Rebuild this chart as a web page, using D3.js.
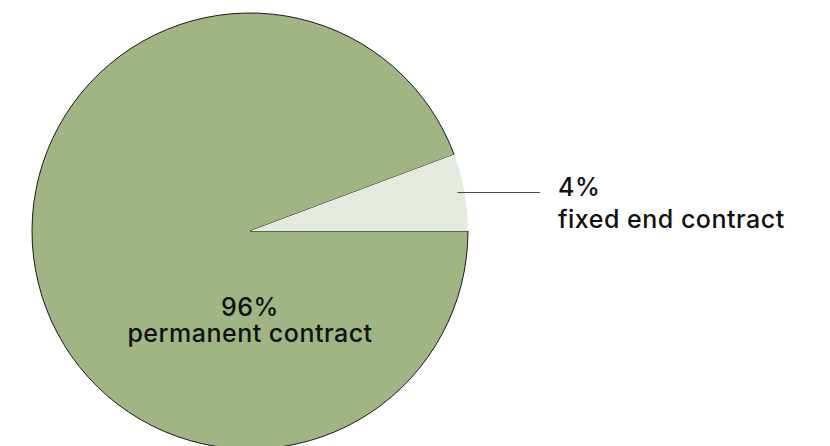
<!DOCTYPE html>
<html lang="en">
<head>
<meta charset="utf-8">
<title>Contract types</title>
<style>
    body { margin: 0; background: #fff; }
    text { font-family: Inter, "Noto Sans", sans-serif; font-size: 25px; font-weight: 500; letter-spacing: 0.5px; fill: #111; }
</style>
<script src="https://d3js.org/d3.v7.min.js"></script>
</head>
<body>
<svg width="830" height="446"></svg>
<script>
    // data
    const categories = ["permanent contract", "fixed end contract"];
    const shares = [94.3, 5.7];            // slice sizes as drawn
    const shareLabels = ["96%", "4%"];
    const colors = ["#a0b484", "#e5eadf"];

    const svg = d3.select("svg"),
        cx = 250, cy = 231, r = 218;

    const g = svg.append("g").attr("transform", `translate(${cx},${cy})`);

    const pie = d3.pie().sort(null).value(d => d.v)
        .startAngle(Math.PI / 2).endAngle(Math.PI / 2 + 2 * Math.PI);
    const arcs = pie(categories.map((c, i) => ({c, v: shares[i], i})));
    const arc = d3.arc().innerRadius(0).outerRadius(r);

    g.selectAll("path")
        .data(arcs)
        .join("path")
        .attr("d", arc)
        .attr("fill", d => colors[d.data.i])
        .attr("stroke", d => d.data.i === 0 ? "#1a1a1a" : "none")
        .attr("stroke-width", 1);

    // big slice label inside
    const big = g.append("text").attr("text-anchor", "middle");
    big.append("tspan").attr("x", 0).attr("y", 85).text(shareLabels[0]);
    big.append("tspan").attr("x", 0).attr("y", 111).text(categories[0]);

    // small slice with leader line
    const small = arcs[1];
    const mid = (small.startAngle + small.endAngle) / 2;
    const ly = -Math.cos(mid) * r * 0.99;
    const lx0 = Math.sin(mid) * r - 7;
    g.append("line")
        .attr("x1", lx0).attr("x2", 290)
        .attr("y1", ly).attr("y2", ly)
        .attr("stroke", "#444").attr("stroke-width", 1);

    const sl = g.append("text");
    sl.append("tspan").attr("x", 308).attr("y", -35).text(shareLabels[1]);
    sl.append("tspan").attr("x", 308).attr("y", -3).text(categories[1]);
</script>
</body>
</html>
